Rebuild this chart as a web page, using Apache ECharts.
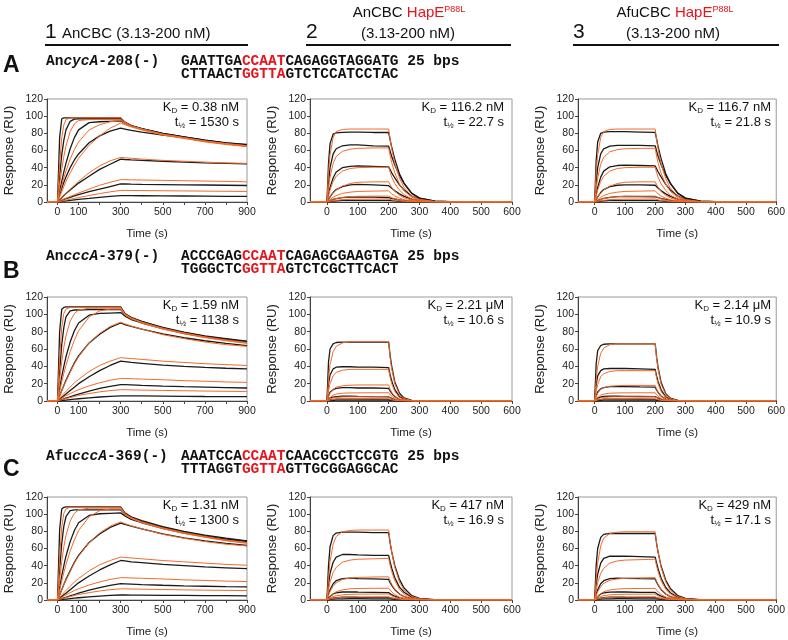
<!DOCTYPE html>
<html>
<head>
<meta charset="utf-8">
<title>SPR sensorgrams</title>
<script src="https://cdn.jsdelivr.net/npm/echarts@6/dist/echarts.min.js"></script>
<style>
  html, body { margin: 0; padding: 0; background: #fff; }
  #chart { width: 788px; height: 640px; }
</style>
</head>
<body>
<div id="chart"></div>
<script>
(function () {
    'use strict';

    // sampling times (s)
    var timeLong = [-50, 0, 10, 20, 30, 40, 60, 80, 100, 150, 200, 250, 300, 320, 350, 400, 500, 600, 700, 800, 900];
    var timeShort = [-55, 0, 5, 10, 20, 30, 50, 75, 100, 150, 200, 205, 210, 220, 235, 250, 275, 300, 350, 400, 500, 600];

    var longTicks = [0, 100, 200, 300, 400, 500, 600, 700, 800, 900];
    var longLabels = [0, 100, 300, 500, 700, 900];
    var shortTicks = [0, 100, 200, 300, 400, 500, 600];

    // ---- row A ----
    var dataA1 = [
        [0, 0, 75, 97, 98, 98, 98, 98, 98, 98, 98, 98, 98, 93, 89, 85.5, 80, 76, 72, 69, 67],
        [0, 0, 30, 55, 72, 84, 94, 96.5, 97, 97, 97, 97, 97, 92.5, 89, 85.5, 80, 76, 72, 69, 66.5],
        [0, 0, 12, 24, 35, 45, 62, 75, 84, 92.5, 93.5, 94, 94.5, 91.5, 88.5, 85, 79.5, 75.5, 71.5, 68.5, 66],
        [0, 0, 8, 16, 23, 29, 40, 49, 56, 69, 77, 82.5, 86, 85, 83.5, 81.5, 78, 75, 71, 68, 65.5],
        [0, 0, 2.5, 5, 7.5, 10, 14, 18, 22, 30, 38, 44, 50, 49.5, 49, 48.5, 47.5, 46.5, 45.5, 45, 44.5],
        [0, 0, 1, 2, 3, 4, 5.5, 7, 8.5, 12, 15, 18, 21, 21, 20.8, 20.6, 20.3, 20, 19.8, 19.5, 19.2],
        [0, 0, 0.3, 0.7, 1, 1.3, 1.9, 2.5, 3, 4.2, 5.5, 6.5, 7.5, 7.5, 7.4, 7.3, 7.1, 7, 6.8, 6.6, 6.5]
    ];
    var fitA1 = [
        [0, 0, 45, 75, 90, 96, 98, 98, 98, 98, 98, 98, 98, 93, 88.5, 85, 79, 75, 71, 68, 65.5],
        [0, 0, 20, 38, 53, 65, 82, 91, 95, 96, 96, 96, 96, 92, 88.5, 85, 79, 75, 71, 68, 65.5],
        [0, 0, 10, 19, 28, 36, 50, 61, 70, 84, 90, 93.5, 95, 91.5, 88, 84.5, 78.5, 74.5, 70.5, 67.5, 65],
        [0, 0, 6, 12, 18, 24, 34, 43, 51, 66, 77, 86, 92, 90, 87.5, 84, 78, 74, 70, 67, 64.5],
        [0, 0, 2.5, 5, 7.5, 10, 15, 19.5, 24, 34, 42, 48, 52, 51.5, 51, 50, 48.5, 47.5, 46.5, 45.5, 45],
        [0, 0, 1, 2.2, 3.3, 4.4, 6.5, 8.5, 10.5, 15, 19.5, 23, 26, 26, 25.8, 25.6, 25.2, 24.8, 24.4, 24, 23.5],
        [0, 0, 0.5, 1, 1.6, 2.1, 3.2, 4.2, 5.2, 7.6, 9.8, 11.8, 13.5, 13.5, 13.4, 13.3, 13.1, 12.9, 12.7, 12.5, 12.3]
    ];
    var dataA2 = [
        [0, 0, 45, 68, 79, 80.5, 81, 81.5, 81.5, 81, 81, 72, 64, 50, 33, 22, 10, 4.5, 1, 0.3, 0, 0],
        [0, 0, 22, 40, 56, 62, 65.5, 66.5, 66.5, 65.5, 65, 59, 53, 43, 31, 21.5, 10, 4.5, 1, 0.3, 0, 0],
        [0, 0, 9, 17, 28, 35, 40, 41.5, 42, 41.5, 41, 37.5, 34, 28, 20, 14, 7, 3, 0.7, 0.2, 0, 0],
        [0, 0, 3, 6, 11, 14.5, 18, 20, 20.5, 20, 19, 17.5, 16, 13, 9.5, 6.5, 3.3, 1.5, 0.4, 0.1, 0, 0],
        [0, 0, 0.8, 1.6, 3, 4, 5.2, 5.8, 6, 5.6, 5, 4.6, 4.2, 3.5, 2.6, 1.8, 0.9, 0.4, 0.1, 0, 0, 0],
        [0, 0, 0.3, 0.6, 1, 1.4, 1.8, 2, 2, 1.9, 1.8, 1.7, 1.5, 1.2, 0.9, 0.6, 0.3, 0.1, 0, 0, 0, 0]
    ];
    var fitA2 = [
        [0, 0, 35, 55, 75, 82, 84.5, 85, 85, 85, 85, 73, 62, 45, 28, 17, 7, 3, 0.6, 0.1, 0, 0],
        [0, 0, 16, 29, 45, 53, 59, 61.5, 62.5, 63, 63, 54, 46, 34, 21, 13, 5.5, 2.3, 0.4, 0.1, 0, 0],
        [0, 0, 7, 14, 24, 30, 36, 39, 40, 40.5, 40.5, 34.5, 29, 21.5, 14, 8.5, 3.5, 1.5, 0.3, 0, 0, 0],
        [0, 0, 3, 6, 10.5, 14, 18.5, 21.5, 23, 23.5, 23.5, 20, 17, 12.5, 8, 5, 2, 0.8, 0.2, 0, 0, 0],
        [0, 0, 1.5, 3, 5.5, 7.5, 10, 11.5, 12.3, 12.7, 13, 11, 9.5, 7, 4.5, 2.8, 1.1, 0.4, 0.1, 0, 0, 0],
        [0, 0, 0.8, 1.5, 3, 4, 5.3, 6.2, 6.6, 6.8, 6.9, 5.9, 5, 3.7, 2.4, 1.5, 0.6, 0.2, 0, 0, 0, 0],
        [0, 0, 0.4, 0.8, 1.5, 2, 2.7, 3.1, 3.3, 3.4, 3.5, 3, 2.5, 1.9, 1.2, 0.8, 0.3, 0.1, 0, 0, 0, 0]
    ];
    var dataA3 = [
        [0, 0, 48, 70, 80, 81.5, 82, 82, 82, 81.5, 81, 73, 64, 50, 33, 22, 10, 4.5, 1, 0.3, 0, 0],
        [0, 0, 22, 40, 56, 62, 65, 66, 66, 66, 65.5, 59, 53, 43, 31, 21.5, 10, 4.5, 1, 0.3, 0, 0],
        [0, 0, 9, 17, 29, 36, 41, 42.5, 43, 42.5, 42, 38.5, 35, 29, 20.5, 14, 7, 3, 0.7, 0.2, 0, 0],
        [0, 0, 3, 6, 11, 14.5, 18, 19.5, 20, 20, 19.5, 17.5, 16, 13, 9.5, 6.5, 3.3, 1.5, 0.4, 0.1, 0, 0],
        [0, 0, 0.9, 1.7, 3.2, 4.3, 5.5, 6.2, 6.5, 6.3, 6, 5.5, 5, 4, 3, 2, 1, 0.4, 0.1, 0, 0, 0],
        [0, 0, 0.3, 0.6, 1, 1.4, 1.8, 2, 2, 1.9, 1.8, 1.7, 1.5, 1.2, 0.9, 0.6, 0.3, 0.1, 0, 0, 0, 0]
    ];
    var fitA3 = [
        [0, 0, 35, 55, 75, 82, 84.5, 85, 85, 85, 85, 72, 61, 44, 27, 16.5, 6.5, 2.7, 0.5, 0.1, 0, 0],
        [0, 0, 15, 28, 44, 52, 58.5, 61, 62, 62.5, 62.5, 53, 45, 33, 20.5, 12.5, 5, 2.1, 0.4, 0.1, 0, 0],
        [0, 0, 7, 14, 24, 30, 36, 39, 40, 40.5, 40.5, 34, 28.5, 21, 13.5, 8, 3.3, 1.4, 0.3, 0, 0, 0],
        [0, 0, 3, 6, 10.5, 14, 18.5, 21.5, 23, 23.5, 23.5, 20, 17, 12, 7.8, 4.8, 1.9, 0.8, 0.2, 0, 0, 0],
        [0, 0, 1.5, 3, 5.5, 7.5, 10, 11.5, 12.3, 12.7, 13, 11, 9.3, 6.8, 4.4, 2.7, 1.1, 0.4, 0.1, 0, 0, 0],
        [0, 0, 0.8, 1.5, 3, 4, 5.3, 6.2, 6.6, 6.8, 6.9, 5.9, 5, 3.6, 2.3, 1.4, 0.6, 0.2, 0, 0, 0, 0],
        [0, 0, 0.4, 0.8, 1.5, 2, 2.7, 3.1, 3.3, 3.4, 3.5, 3, 2.5, 1.8, 1.2, 0.7, 0.3, 0.1, 0, 0, 0, 0]
    ];

    // ---- row B ----
    var dataB1 = [
        [0, 0, 80, 106, 108, 108.5, 108.5, 108.5, 108.5, 108.5, 108.5, 108.5, 108.5, 101, 96.5, 92, 85, 79.5, 75, 72, 69],
        [0, 0, 35, 65, 85, 97, 104, 105, 105, 105.5, 105.5, 105.5, 105.5, 100, 96, 91.5, 84.5, 79, 74.5, 71.5, 68.5],
        [0, 0, 14, 28, 40, 51, 68, 81, 90, 99, 101, 101.5, 102, 98, 94, 90, 83.5, 78, 74, 71, 68],
        [0, 0, 6, 12, 18, 24, 34, 44, 52, 67, 77, 85, 90, 88, 86, 83, 77.5, 73, 69.5, 66.5, 64],
        [0, 0, 2, 4, 6, 8, 12, 16, 20, 28, 35, 41, 46, 45.5, 44.5, 43.5, 41.5, 40, 38.8, 37.8, 37],
        [0, 0, 0.8, 1.6, 2.4, 3.2, 4.8, 6.4, 8, 11.5, 14.5, 17, 19, 18.8, 18.5, 18, 17.2, 16.5, 16, 15.5, 15],
        [0, 0, 0.3, 0.6, 0.8, 1.1, 1.6, 2.1, 2.6, 3.6, 4.6, 5.4, 6, 6, 5.9, 5.8, 5.6, 5.4, 5.2, 5.1, 5]
    ];
    var fitB1 = [
        [0, 0, 50, 85, 101, 106, 108, 108, 108, 108, 108, 108, 108, 100.5, 96, 91, 84, 78.5, 74, 70.5, 67.5],
        [0, 0, 24, 45, 62, 75, 92, 101, 105, 107, 107, 107, 107, 99.5, 95.5, 90.5, 83.5, 78, 73.5, 70, 67],
        [0, 0, 11, 22, 32, 41, 57, 70, 81, 97, 104, 106, 106, 99, 95, 90, 83, 77.5, 73, 69.5, 66.5],
        [0, 0, 6, 12, 18, 23, 33, 43, 51, 67, 78, 86, 91, 89, 86.5, 83, 76.5, 72, 68, 65, 63],
        [0, 0, 3, 6, 8.5, 11, 16, 21, 25, 34, 41, 46, 50, 49.5, 49, 48, 46, 44.5, 43, 42, 41],
        [0, 0, 1.5, 3, 4.5, 6, 8.5, 11, 13, 17.5, 21, 24, 26, 26, 25.7, 25.3, 24.5, 23.5, 22.8, 22, 21.5],
        [0, 0, 0.7, 1.4, 2.1, 2.8, 4, 5.2, 6.4, 8.6, 10.5, 12, 13, 13, 12.8, 12.6, 12.2, 11.8, 11.5, 11.2, 11]
    ];
    var dataB2 = [
        [0, 0, 45, 60, 66, 67.5, 68, 68, 68, 68, 68, 52, 40, 22, 9, 3.5, 0.8, 0.3, 0, 0, 0, 0],
        [0, 0, 20, 30, 37, 39, 39.5, 39.5, 39, 39, 38.5, 30, 23, 13, 5, 2, 0.5, 0.1, 0, 0, 0, 0],
        [0, 0, 6, 10, 13, 14.5, 15.5, 15.5, 15, 15, 14.5, 11.5, 9, 5, 2, 0.8, 0.2, 0, 0, 0, 0, 0],
        [0, 0, 2, 3.5, 4.5, 5, 5.5, 5.5, 5.3, 5, 4.8, 3.8, 3, 1.7, 0.7, 0.3, 0, 0, 0, 0, 0, 0],
        [0, 0, 0.7, 1.2, 1.7, 2, 2.2, 2.2, 2.1, 2, 1.9, 1.5, 1.2, 0.7, 0.3, 0.1, 0, 0, 0, 0, 0, 0],
        [0, 0, 0.3, 0.5, 0.8, 0.9, 1, 1, 1, 1, 0.9, 0.7, 0.6, 0.3, 0.1, 0, 0, 0, 0, 0, 0, 0]
    ];
    var fitB2 = [
        [0, 0, 25, 42, 57, 63, 67, 68.5, 68.5, 68.5, 68.5, 50, 37, 20, 7.5, 2.8, 0.6, 0.1, 0, 0, 0, 0],
        [0, 0, 12, 20, 29, 33, 35.5, 36.5, 36.5, 36.5, 36.5, 27, 20, 11, 4, 1.5, 0.3, 0, 0, 0, 0, 0],
        [0, 0, 5, 9, 13.5, 16, 17.5, 18.2, 18.5, 18.5, 18.5, 13.5, 10, 5.5, 2, 0.8, 0.2, 0, 0, 0, 0, 0],
        [0, 0, 2.5, 4.5, 6.8, 8, 9, 9.3, 9.4, 9.5, 9.5, 7, 5.2, 2.8, 1, 0.4, 0.1, 0, 0, 0, 0, 0],
        [0, 0, 1.3, 2.3, 3.5, 4.2, 4.7, 4.8, 4.8, 4.8, 4.8, 3.5, 2.6, 1.4, 0.5, 0.2, 0, 0, 0, 0, 0, 0],
        [0, 0, 0.7, 1.2, 1.8, 2.1, 2.4, 2.4, 2.4, 2.4, 2.4, 1.8, 1.3, 0.7, 0.3, 0.1, 0, 0, 0, 0, 0, 0]
    ];
    var dataB3 = [
        [0, 0, 43, 58, 64, 65.5, 66, 66, 66, 66, 66, 50, 38, 21, 8.5, 3.3, 0.8, 0.3, 0, 0, 0, 0],
        [0, 0, 19, 29, 35, 37, 37.5, 37.5, 37.5, 37, 36.5, 28.5, 22, 12.5, 4.8, 1.9, 0.5, 0.1, 0, 0, 0, 0],
        [0, 0, 6, 10.5, 14, 15.5, 16.5, 16.5, 16.5, 16.2, 16, 12.5, 9.8, 5.5, 2.2, 0.9, 0.2, 0, 0, 0, 0, 0],
        [0, 0, 2, 3.5, 4.6, 5.2, 5.5, 5.5, 5.4, 5.2, 5, 4, 3.2, 1.8, 0.7, 0.3, 0, 0, 0, 0, 0, 0],
        [0, 0, 0.7, 1.2, 1.7, 2, 2.2, 2.2, 2.1, 2, 1.9, 1.5, 1.2, 0.7, 0.3, 0.1, 0, 0, 0, 0, 0, 0],
        [0, 0, 0.3, 0.5, 0.8, 0.9, 1, 1, 1, 1, 0.9, 0.7, 0.6, 0.3, 0.1, 0, 0, 0, 0, 0, 0, 0]
    ];
    var fitB3 = [
        [0, 0, 24, 40, 55, 61, 65, 66, 66, 66, 66, 48, 36, 19, 7.3, 2.7, 0.6, 0.1, 0, 0, 0, 0],
        [0, 0, 11, 19, 28, 31.5, 34, 35, 35, 35, 35, 26, 19.5, 10.5, 4, 1.5, 0.3, 0, 0, 0, 0, 0],
        [0, 0, 5, 9, 13.5, 15.5, 17, 17.7, 18, 18, 18, 13.3, 10, 5.3, 2, 0.8, 0.2, 0, 0, 0, 0, 0],
        [0, 0, 2.5, 4.5, 6.8, 8, 9, 9.3, 9.4, 9.5, 9.5, 7, 5.2, 2.8, 1, 0.4, 0.1, 0, 0, 0, 0, 0],
        [0, 0, 1.3, 2.3, 3.5, 4.2, 4.7, 4.8, 4.8, 4.8, 4.8, 3.5, 2.6, 1.4, 0.5, 0.2, 0, 0, 0, 0, 0, 0],
        [0, 0, 0.7, 1.2, 1.8, 2.1, 2.4, 2.4, 2.4, 2.4, 2.4, 1.8, 1.3, 0.7, 0.3, 0.1, 0, 0, 0, 0, 0, 0]
    ];

    // ---- row C ----
    var dataC1 = [
        [0, 0, 82, 106, 108, 108.5, 108.5, 108.5, 108.5, 108.5, 108.5, 108.5, 108.5, 101.5, 97, 92.5, 85.5, 80, 75.5, 72, 69],
        [0, 0, 36, 66, 86, 97, 104, 105, 105, 105, 105, 105, 105, 100, 96, 91.5, 84.5, 79, 74.5, 71, 68.5],
        [0, 0, 14, 28, 40, 51, 68, 81, 90, 98.5, 100.5, 101, 101.5, 98, 94, 90, 83.5, 78, 74, 70.5, 68],
        [0, 0, 6, 12, 18, 24, 34, 44, 52, 67, 77, 84.5, 89.5, 88, 86, 83, 77, 72.5, 69, 66, 63.5],
        [0, 0, 2, 4, 6, 8, 12, 16, 20, 28, 35, 41, 46, 45.5, 44.5, 43.5, 41.5, 40, 38.5, 37.5, 36.5],
        [0, 0, 0.8, 1.6, 2.4, 3.2, 4.8, 6.4, 8, 11.5, 14.5, 17, 19, 18.8, 18.5, 18, 17.2, 16.5, 16, 15.5, 15.2],
        [0, 0, 0.3, 0.6, 0.8, 1.1, 1.6, 2.1, 2.6, 3.6, 4.6, 5.3, 5.8, 5.8, 5.7, 5.6, 5.4, 5.3, 5.1, 5, 4.8]
    ];
    var fitC1 = [
        [0, 0, 50, 85, 101, 106, 108, 108, 108, 108, 108, 108, 108, 100.5, 96, 91, 84, 78.5, 74, 70, 67],
        [0, 0, 24, 45, 62, 75, 92, 101, 105, 107, 107, 107, 107, 99.5, 95.5, 90.5, 83.5, 78, 73.5, 69.5, 66.5],
        [0, 0, 11, 22, 32, 41, 57, 70, 81, 97, 104, 106, 106, 99, 95, 90, 83, 77.5, 73, 69, 66],
        [0, 0, 6, 12, 18, 23, 33, 43, 51, 67, 78, 86, 91, 89, 86.5, 83, 76.5, 72, 68, 65, 63],
        [0, 0, 3, 6, 8.5, 11, 16, 21, 25, 34, 41, 46, 50, 49.5, 49, 48, 46, 44.5, 43, 41.5, 40.5],
        [0, 0, 1.5, 3, 4.5, 6, 8.5, 11, 13, 17.5, 21, 24, 26, 26, 25.7, 25.3, 24.5, 23.5, 22.8, 22, 21.5],
        [0, 0, 0.7, 1.4, 2.1, 2.8, 4, 5.2, 6.4, 8.6, 10.5, 12, 13, 13, 12.8, 12.6, 12.2, 11.8, 11.5, 11.2, 11]
    ];
    var dataC2 = [
        [0, 0, 40, 62, 75, 78, 79, 79, 79, 78.5, 78.5, 66, 56, 40, 24, 14, 5, 2, 0.3, 0, 0, 0],
        [0, 0, 18, 31, 44, 50, 53, 53, 52.5, 52, 52, 44, 37, 26, 15, 9, 3.3, 1.2, 0.2, 0, 0, 0],
        [0, 0, 7, 12, 19, 22.5, 25, 25.5, 25, 24.5, 24, 20, 17, 12, 7, 4, 1.5, 0.6, 0.1, 0, 0, 0],
        [0, 0, 2.5, 4.5, 7, 8.3, 9.3, 9.5, 9.3, 9, 8.7, 7.3, 6.2, 4.4, 2.6, 1.5, 0.5, 0.2, 0, 0, 0, 0],
        [0, 0, 0.8, 1.5, 2.3, 2.8, 3.2, 3.3, 3.2, 3.1, 3, 2.5, 2.1, 1.5, 0.9, 0.5, 0.2, 0, 0, 0, 0, 0],
        [0, 0, 0.4, 0.7, 1, 1.2, 1.4, 1.5, 1.5, 1.4, 1.4, 1.2, 1, 0.7, 0.4, 0.2, 0.1, 0, 0, 0, 0, 0]
    ];
    var fitC2 = [
        [0, 0, 25, 45, 65, 74, 79.5, 81, 81.5, 81.5, 81.5, 67, 56, 38, 21, 11.5, 4, 1.5, 0.2, 0, 0, 0],
        [0, 0, 12, 21, 32, 38, 44, 46.5, 47.5, 48, 48.5, 40, 33, 22.5, 12.5, 7, 2.4, 0.8, 0.1, 0, 0, 0],
        [0, 0, 5.5, 10, 16, 20, 24, 25.5, 26.3, 26.8, 27, 22, 18.3, 12.5, 7, 4, 1.3, 0.5, 0, 0, 0, 0],
        [0, 0, 2.5, 4.5, 7.5, 9.5, 11.8, 13, 13.4, 13.6, 13.7, 11.3, 9.3, 6.3, 3.5, 2, 0.7, 0.2, 0, 0, 0, 0],
        [0, 0, 1.3, 2.4, 4, 5, 6, 6.6, 6.8, 6.9, 7, 5.8, 4.8, 3.2, 1.8, 1, 0.3, 0.1, 0, 0, 0, 0],
        [0, 0, 0.6, 1.2, 2, 2.5, 3, 3.3, 3.4, 3.5, 3.5, 2.9, 2.4, 1.6, 0.9, 0.5, 0.2, 0, 0, 0, 0, 0]
    ];
    var dataC3 = [
        [0, 0, 40, 60, 73, 76.5, 77.5, 77.5, 77.5, 77.5, 77.5, 65, 55, 39, 23, 13.5, 5, 2, 0.3, 0, 0, 0],
        [0, 0, 18, 30, 43, 48.5, 51, 51, 51, 50.5, 50, 42.5, 36, 25, 14.5, 8.5, 3.2, 1.2, 0.2, 0, 0, 0],
        [0, 0, 7, 12, 19, 22.5, 25, 25.5, 25.3, 24.8, 24.5, 20.5, 17.3, 12, 7, 4, 1.5, 0.6, 0.1, 0, 0, 0],
        [0, 0, 2.5, 4.5, 7, 8.3, 9.2, 9.4, 9.3, 9, 8.8, 7.4, 6.2, 4.4, 2.6, 1.5, 0.5, 0.2, 0, 0, 0, 0],
        [0, 0, 0.8, 1.5, 2.3, 2.8, 3.2, 3.3, 3.2, 3.1, 3, 2.5, 2.1, 1.5, 0.9, 0.5, 0.2, 0, 0, 0, 0, 0],
        [0, 0, 0.4, 0.7, 1, 1.2, 1.4, 1.5, 1.5, 1.4, 1.4, 1.2, 1, 0.7, 0.4, 0.2, 0.1, 0, 0, 0, 0, 0]
    ];
    var fitC3 = [
        [0, 0, 24, 43, 63, 72, 77.5, 79, 79.5, 79.5, 79.5, 65.5, 55, 37.5, 21, 11.5, 4, 1.5, 0.2, 0, 0, 0],
        [0, 0, 11, 20, 31, 37, 43, 45.5, 46.5, 47, 47.5, 39, 32.5, 22, 12.5, 7, 2.4, 0.8, 0.1, 0, 0, 0],
        [0, 0, 5, 9.5, 15.5, 19.5, 23, 24.5, 25.3, 25.8, 26, 21.3, 17.7, 12, 6.8, 3.8, 1.3, 0.5, 0, 0, 0, 0],
        [0, 0, 2.5, 4.5, 7.5, 9.5, 11.7, 12.8, 13.2, 13.4, 13.5, 11.1, 9.2, 6.2, 3.5, 2, 0.7, 0.2, 0, 0, 0, 0],
        [0, 0, 1.3, 2.4, 4, 5, 6, 6.5, 6.7, 6.8, 6.9, 5.7, 4.7, 3.2, 1.8, 1, 0.3, 0.1, 0, 0, 0, 0],
        [0, 0, 0.6, 1.2, 2, 2.5, 3, 3.3, 3.4, 3.5, 3.5, 2.9, 2.4, 1.6, 0.9, 0.5, 0.2, 0, 0, 0, 0, 0]
    ];

    var kdValues = ['0.38 nM', '116.2 nM', '116.7 nM', '1.59 nM', '2.21 \u03bcM', '2.14 \u03bcM', '1.31 nM', '417 nM', '429 nM'];
    var halfLives = ['1530 s', '22.7 s', '21.8 s', '1138 s', '10.6 s', '10.9 s', '1300 s', '16.9 s', '17.1 s'];

    var panelData = [dataA1, dataA2, dataA3, dataB1, dataB2, dataB3, dataC1, dataC2, dataC3];
    var panelFit = [fitA1, fitA2, fitA3, fitB1, fitB2, fitB3, fitC1, fitC2, fitC3];

    // layout
    var colLeft = [47, 310, 578];
    var colWidth = [200, 202, 201];
    var rowTop = [99, 297, 497];
    var rowHeight = [103, 104, 103];

    var sans = '"Liberation Sans", Arial, sans-serif';
    var mono = '"Liberation Mono", "Courier New", monospace';
    var RED = '#e8141c';
    var ORANGE = '#f26a2a';

    var option = {
        animation: false,
        backgroundColor: '#fff',
        grid: [],
        xAxis: [],
        yAxis: [],
        series: [],
        graphic: []
    };

    for (var p = 0; p < 9; p++) {
        var row = Math.floor(p / 3), col = p % 3;
        var isLong = col === 0;
        var times = isLong ? timeLong : timeShort;

        option.grid.push({
            left: colLeft[col], top: rowTop[row],
            width: colWidth[col], height: rowHeight[row],
            show: true, borderColor: '#9a9a9a', borderWidth: 1
        });
        option.xAxis.push({
            type: 'value', gridIndex: p,
            min: isLong ? -50 : -55, max: isLong ? 900 : 600,
            name: 'Time (s)', nameLocation: 'middle', nameGap: 26,
            nameTextStyle: { fontFamily: sans, fontSize: 11.5, color: '#222' },
            axisLine: { onZero: false, lineStyle: { color: '#444', width: 1 } },
            axisTick: { customValues: isLong ? longTicks : shortTicks, length: 3, lineStyle: { color: '#444' } },
            axisLabel: { customValues: isLong ? longLabels : shortTicks, fontFamily: sans, fontSize: 10.5, color: '#222', margin: 5 },
            splitLine: { show: false }
        });
        option.yAxis.push({
            type: 'value', gridIndex: p,
            min: 0, max: 120, interval: 20,
            name: 'Response (RU)', nameLocation: 'middle', nameGap: 31,
            nameTextStyle: { fontFamily: sans, fontSize: 13, color: '#222' },
            axisLine: { onZero: false, lineStyle: { color: '#444', width: 1 } },
            axisTick: { length: 3, lineStyle: { color: '#444' } },
            axisLabel: { fontFamily: sans, fontSize: 10.5, color: '#222', margin: 4 },
            splitLine: { show: false }
        });

        var addSeries = function (curves, color, width, z) {
            curves.forEach(function (vals) {
                option.series.push({
                    type: 'line', xAxisIndex: p, yAxisIndex: p,
                    data: times.map(function (t, i) { return [t, vals[i]]; }),
                    symbol: 'none', silent: true, z: z,
                    lineStyle: { color: color, width: width }
                });
            });
        };
        addSeries(panelData[p], '#1a1a1a', 1.3, 2);
        addSeries(panelFit[p], ORANGE, 1, 3);

        var right = colLeft[col] + colWidth[col] - 8;
        option.graphic.push({
            type: 'text', x: right, y: rowTop[row] + 8, silent: true,
            style: {
                text: '{m|K}{s|D}{m| = ' + kdValues[p] + '}',
                align: 'right', verticalAlign: 'middle',
                rich: {
                    m: { fontSize: 13, fontFamily: sans, fill: '#111', lineHeight: 16 },
                    s: { fontSize: 8, fontFamily: sans, fill: '#111', lineHeight: 16, verticalAlign: 'bottom' }
                }
            }
        });
        option.graphic.push({
            type: 'text', x: right, y: rowTop[row] + 23, silent: true,
            style: {
                text: '{m|t}{s|\u00bd}{m| = ' + halfLives[p] + '}',
                align: 'right', verticalAlign: 'middle',
                rich: {
                    m: { fontSize: 13, fontFamily: sans, fill: '#111', lineHeight: 16 },
                    s: { fontSize: 8, fontFamily: sans, fill: '#111', lineHeight: 16, verticalAlign: 'bottom' }
                }
            }
        });
    }

    // column headers
    var headRich = {
        n: { fontSize: 21, fontFamily: sans, fill: '#111' },
        b: { fontSize: 15, fontFamily: sans, fill: '#111' },
        r: { fontSize: 15, fontFamily: sans, fill: RED },
        p: { fontSize: 9, fontFamily: sans, fill: RED, verticalAlign: 'top' }
    };
    option.graphic.push(
        { type: 'text', x: 45, y: 32, style: { text: '{n|1}', rich: headRich, verticalAlign: 'middle' } },
        { type: 'text', x: 62, y: 34, style: { text: '{b|AnCBC (3.13-200 nM)}', rich: headRich, verticalAlign: 'middle' } },
        { type: 'text', x: 306, y: 32, style: { text: '{n|2}', rich: headRich, verticalAlign: 'middle' } },
        { type: 'text', x: 409, y: 13, style: { text: '{b|AnCBC }{r|HapE}{p|P88L}', rich: headRich, align: 'center', verticalAlign: 'middle' } },
        { type: 'text', x: 408, y: 34, style: { text: '{b|(3.13-200 nM)}', rich: headRich, align: 'center', verticalAlign: 'middle' } },
        { type: 'text', x: 573, y: 32, style: { text: '{n|3}', rich: headRich, verticalAlign: 'middle' } },
        { type: 'text', x: 675, y: 13, style: { text: '{b|AfuCBC }{r|HapE}{p|P88L}', rich: headRich, align: 'center', verticalAlign: 'middle' } },
        { type: 'text', x: 673, y: 34, style: { text: '{b|(3.13-200 nM)}', rich: headRich, align: 'center', verticalAlign: 'middle' } },
        { type: 'line', shape: { x1: 45, y1: 45, x2: 248, y2: 45 }, style: { stroke: '#111', lineWidth: 2 } },
        { type: 'line', shape: { x1: 306, y1: 45, x2: 511, y2: 45 }, style: { stroke: '#111', lineWidth: 2 } },
        { type: 'line', shape: { x1: 573, y1: 45, x2: 779, y2: 45 }, style: { stroke: '#111', lineWidth: 2 } }
    );

    // probe sequences
    var seqRich = {
        k: { fontSize: 14.5, fontFamily: mono, fontWeight: 'bold', fill: '#111' },
        i: { fontSize: 14.5, fontFamily: mono, fontWeight: 'bold', fontStyle: 'italic', fill: '#111' },
        r: { fontSize: 14.5, fontFamily: mono, fontWeight: 'bold', fill: RED }
    };
    var probes = [
        { letter: 'A', ly: 66, y: 61, pre: 'An', gene: 'cycA', post: '-208(-)',
          top: ['GAATTGA', 'CCAAT', 'CAGAGGTAGGATG 25 bps'], bottom: ['CTTAACT', 'GGTTA', 'GTCTCCATCCTAC'] },
        { letter: 'B', ly: 272, y: 256, pre: 'An', gene: 'cccA', post: '-379(-)',
          top: ['ACCCGAG', 'CCAAT', 'CAGAGCGAAGTGA 25 bps'], bottom: ['TGGGCTC', 'GGTTA', 'GTCTCGCTTCACT'] },
        { letter: 'C', ly: 470, y: 456, pre: 'Afu', gene: 'cccA', post: '-369(-)',
          top: ['AAATCCA', 'CCAAT', 'CAACGCCTCCGTG 25 bps'], bottom: ['TTTAGGT', 'GGTTA', 'GTTGCGGAGGCAC'] }
    ];
    probes.forEach(function (pr) {
        option.graphic.push(
            { type: 'text', x: 3, y: pr.ly, style: { text: pr.letter, fontSize: 23, fontWeight: 'bold', fontFamily: sans, fill: '#111', verticalAlign: 'middle' } },
            { type: 'text', x: 46, y: pr.y, style: { text: '{k|' + pr.pre + '}{i|' + pr.gene + '}{k|' + pr.post + '}', rich: seqRich, verticalAlign: 'middle' } },
            { type: 'text', x: 181, y: pr.y, style: { text: '{k|' + pr.top[0] + '}{r|' + pr.top[1] + '}{k|' + pr.top[2] + '}', rich: seqRich, verticalAlign: 'middle' } },
            { type: 'text', x: 181, y: pr.y + 13, style: { text: '{k|' + pr.bottom[0] + '}{r|' + pr.bottom[1] + '}{k|' + pr.bottom[2] + '}', rich: seqRich, verticalAlign: 'middle' } }
        );
    });

    var myChart = echarts.init(document.getElementById('chart'), null, { renderer: 'canvas' });
    myChart.setOption(option);
})();
</script>
</body>
</html>
